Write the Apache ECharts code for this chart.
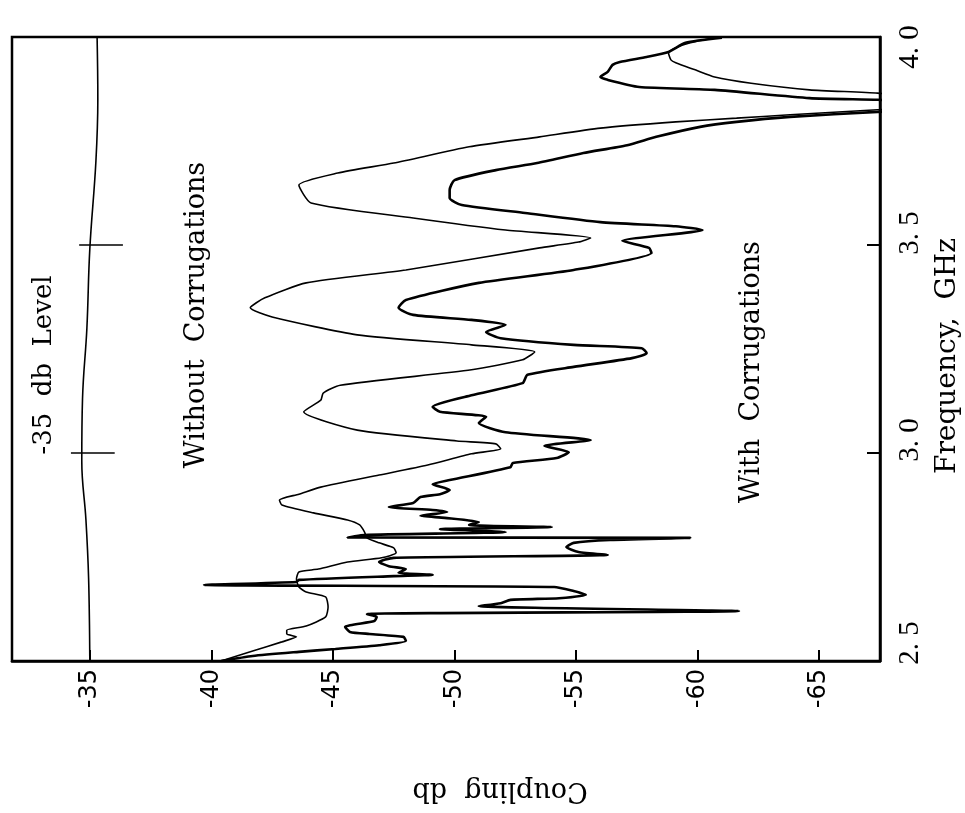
<!DOCTYPE html>
<html>
<head>
<meta charset="utf-8">
<script src="https://cdn.jsdelivr.net/npm/echarts@6/dist/echarts.min.js"></script>
<style>
html,body{margin:0;padding:0;background:#fff;}
#c{width:965px;height:813px;}
</style>
</head>
<body>
<div id="c"></div>
<script>
// Coupling (db) axis ticks and frequency (GHz) axis ticks
const dbTicks = [-35, -40, -45, -50, -55, -60, -65];
const freqTicks = [2.5, 3.0, 3.5, 4.0];
const freqInnerTicks = [3.0, 3.5];

// "Without Corrugations" curve
const withoutFreq = [2.500,2.524,2.546,2.558,2.565,2.574,2.584,2.606,2.630,2.654,2.666,2.678,2.697,2.714,2.721,2.738,2.748,2.760,2.772,2.784,2.796,2.810,2.827,2.839,2.856,2.875,2.887,2.901,2.918,2.947,2.971,2.998,3.010,3.022,3.029,3.055,3.099,3.127,3.144,3.163,3.200,3.224,3.243,3.260,3.284,3.327,3.349,3.373,3.409,3.440,3.493,3.507,3.517,3.536,3.565,3.601,3.644,3.673,3.697,3.736,3.760,3.781,3.796,3.805,3.813,3.825,3.840,3.865,3.873,3.889,3.904,3.921,3.938,3.945,3.962,3.974,3.986,3.998];
const withoutDb = [-40.4,-41.7,-42.9,-43.5,-43.1,-43.1,-43.9,-44.7,-44.8,-44.7,-43.9,-43.6,-43.5,-43.6,-44.4,-45.6,-47.0,-47.6,-47.5,-46.9,-46.4,-46.3,-46.1,-45.6,-44.2,-42.9,-42.8,-43.6,-44.5,-46.9,-48.9,-50.7,-51.9,-51.7,-50.1,-46.0,-43.8,-44.5,-44.6,-45.3,-50.7,-52.8,-53.3,-50.7,-46.0,-42.5,-41.6,-42.2,-43.9,-48.0,-53.5,-55.1,-55.6,-52.1,-48.3,-44.1,-43.6,-45.2,-47.5,-50.6,-53.5,-56.0,-59.1,-61.6,-63.8,-67.4,-72.0,-67.4,-64.6,-62.2,-60.7,-59.9,-59.1,-58.9,-58.8,-59.1,-59.7,-60.7];

// "With Corrugations" curve
const withFreq = [2.500,2.512,2.522,2.529,2.538,2.548,2.558,2.565,2.570,2.582,2.596,2.606,2.613,2.620,2.632,2.639,2.647,2.651,2.659,2.668,2.678,2.683,2.690,2.695,2.704,2.707,2.712,2.721,2.728,2.738,2.748,2.755,2.762,2.774,2.784,2.791,2.796,2.797,2.803,2.810,2.817,2.822,2.827,2.834,2.844,2.849,2.858,2.863,2.870,2.880,2.894,2.901,2.911,2.925,2.935,2.966,2.976,2.988,3.002,3.017,3.031,3.050,3.072,3.087,3.099,3.111,3.139,3.168,3.188,3.207,3.228,3.240,3.252,3.260,3.276,3.291,3.308,3.320,3.332,3.349,3.368,3.409,3.440,3.481,3.493,3.510,3.536,3.545,3.555,3.577,3.596,3.613,3.632,3.656,3.680,3.697,3.721,3.740,3.760,3.784,3.796,3.808,3.820,3.838,3.849,3.853,3.873,3.880,3.897,3.904,3.916,3.933,3.940,3.952,3.964,3.986,3.998];
const withDb = [-40.4,-41.7,-43.6,-45.1,-46.9,-48.0,-47.9,-46.5,-45.7,-45.5,-46.7,-46.8,-46.4,-61.7,-51.0,-51.9,-52.3,-54.3,-55.4,-54.9,-54.1,-39.7,-43.5,-43.6,-47.5,-49.1,-47.7,-48.0,-47.3,-46.9,-47.5,-56.3,-55.1,-54.6,-54.9,-56.4,-59.7,-45.6,-46.3,-52.1,-49.4,-54.0,-50.6,-51.0,-49.6,-48.6,-49.7,-49.1,-47.3,-48.3,-48.6,-49.4,-49.8,-49.1,-49.8,-52.3,-52.4,-54.2,-54.7,-53.7,-55.6,-52.1,-51.0,-51.3,-49.4,-49.1,-50.7,-52.8,-53.0,-54.9,-57.3,-57.9,-57.7,-54.9,-51.9,-51.3,-52.1,-50.7,-48.3,-47.7,-48.0,-51.0,-54.9,-58.1,-58.0,-56.9,-60.2,-59.1,-56.0,-52.9,-50.3,-49.8,-49.8,-50.0,-51.7,-53.4,-55.3,-57.1,-58.3,-60.1,-61.6,-63.8,-67.4,-72.0,-67.4,-64.6,-60.7,-57.6,-56.3,-56.0,-56.3,-56.5,-56.8,-57.9,-58.8,-59.5,-61.0];

// "-35 db Level" reference trace
const levelFreq = [2.50,2.70,2.84,2.98,3.13,3.30,3.49,3.70,3.85,4.00];
const levelDb = [-35.0,-34.95,-34.84,-34.67,-34.70,-34.88,-35.0,-35.25,-35.33,-35.3];

const pairs = (f, d) => f.map((v, i) => [d[i], v]);
function levelAt(f) {
  for (let i = 0; i < levelFreq.length - 1; i++) {
    if (f >= levelFreq[i] && f <= levelFreq[i + 1]) {
      const t = (f - levelFreq[i]) / (levelFreq[i + 1] - levelFreq[i]);
      return levelDb[i] + t * (levelDb[i + 1] - levelDb[i]);
    }
  }
  return levelDb[levelDb.length - 1];
}

const serif = 'DejaVu Serif';
const labFont = {fontFamily: 'Liberation Serif', fontSize: 29, color: '#000'};
const richStyles = {
  a: Object.assign({padding: [0, 0, 0, 36]}, labFont),
  b: Object.assign({padding: [0, 0, 0, 26]}, labFont),
  c: Object.assign({padding: [0, 0, 0, 24]}, labFont),
  d: Object.assign({padding: [0, 20, 0, 0]}, labFont)
};
const richKey = v => (v < 2.75 ? 'a' : v < 3.25 ? 'b' : v < 3.75 ? 'c' : 'd');

const chart = echarts.init(document.getElementById('c'), null, {renderer: 'canvas'});
chart.setOption({
  backgroundColor: '#fff',
  animation: false,
  grid: {left: 12, right: 85, top: 37, bottom: 152, show: true, borderColor: '#000', borderWidth: 2.5, outerBoundsMode: 'none', containLabel: false},
  xAxis: {
    type: 'value', inverse: true, min: -67.5, max: -31.8, position: 'bottom',
    splitLine: {show: false},
    axisLine: {show: true, onZero: false, lineStyle: {color: '#000', width: 2.5}},
    axisTick: {show: true, inside: true, length: 11, customValues: dbTicks, lineStyle: {color: '#000', width: 2}},
    axisLabel: {rotate: 90, customValues: dbTicks, margin: 8, color: '#000', fontFamily: 'DejaVu Sans', fontSize: 24, formatter: v => String(v)}
  },
  yAxis: {
    type: 'value', min: 2.5, max: 4.0, position: 'right',
    splitLine: {show: false},
    axisLine: {show: true, onZero: false, lineStyle: {color: '#000', width: 2.5}},
    axisTick: {show: true, inside: true, length: 13, customValues: freqInnerTicks, lineStyle: {color: '#000', width: 2}},
    axisLabel: {rotate: 90, customValues: freqTicks, margin: 16, color: '#000', fontFamily: 'Liberation Serif', fontSize: 29,
      rich: richStyles,
      formatter: v => '{' + richKey(v) + '|' + v.toFixed(1).replace('.', '. ') + '}'}
  },
  series: [
    {type: 'line', name: 'Without Corrugations', data: pairs(withoutFreq, withoutDb), symbol: 'none', smooth: 0.2,
      lineStyle: {color: '#000', width: 1.6}, clip: true},
    {type: 'line', name: 'With Corrugations', data: pairs(withFreq, withDb), symbol: 'none', smooth: 0.2,
      lineStyle: {color: '#000', width: 2.6}, clip: true},
    {type: 'line', name: '-35 db Level', data: pairs(levelFreq, levelDb), symbol: 'none', smooth: 0.4,
      lineStyle: {color: '#000', width: 1.6},
      markLine: {silent: true, symbol: 'none', label: {show: false}, lineStyle: {color: '#000', width: 1.6, type: 'solid'},
        data: freqInnerTicks.map(f => [{coord: [levelAt(f) + 0.45, f]}, {coord: [levelAt(f) - 1.35, f]}])}}
  ],
  graphic: [
    {type: 'text', x: 948, y: 356, rotation: Math.PI / 2, style: {text: 'Frequency,  GHz', font: '28px "' + serif + '"', fill: '#000', align: 'center', verticalAlign: 'middle'}},
    {type: 'text', x: 500, y: 790, rotation: Math.PI, style: {text: 'Coupling  db', font: '27px "' + serif + '"', fill: '#000', align: 'center', verticalAlign: 'middle'}},
    {type: 'text', x: 44, y: 365, rotation: Math.PI / 2, style: {text: '-35  db  Level', font: '26px "' + serif + '"', fill: '#000', align: 'center', verticalAlign: 'middle'}},
    {type: 'text', x: 197, y: 315, rotation: Math.PI / 2, style: {text: 'Without  Corrugations', font: '27px "' + serif + '"', fill: '#000', align: 'center', verticalAlign: 'middle'}},
    {type: 'text', x: 752, y: 372, rotation: Math.PI / 2, style: {text: 'With  Corrugations', font: '27px "' + serif + '"', fill: '#000', align: 'center', verticalAlign: 'middle'}}
  ]
});
</script>
</body>
</html>
